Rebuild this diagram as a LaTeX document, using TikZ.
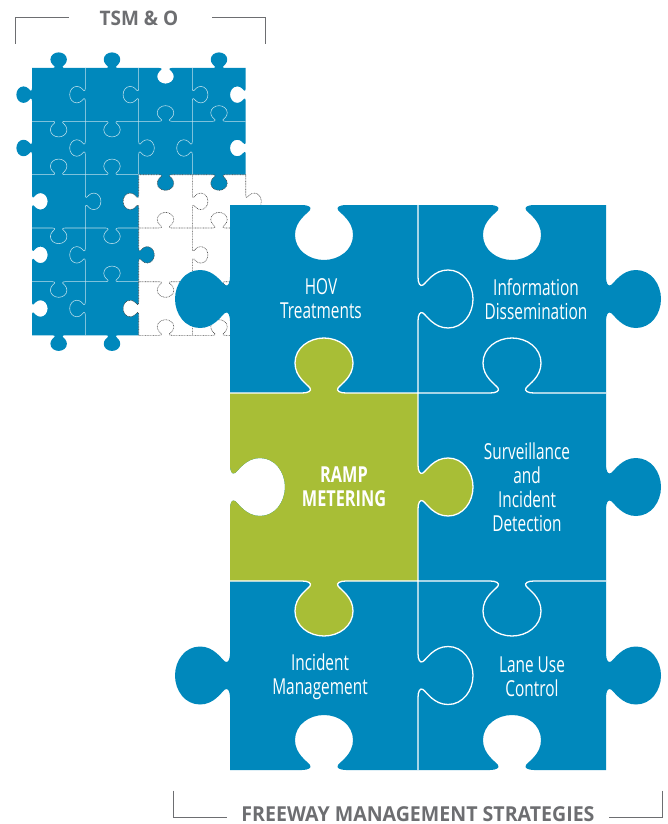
\documentclass[tikz,border=0pt]{standalone}
\usepackage{fontspec}
\setmainfont{Open Sans}
\newfontfamily\lab[FakeStretch=0.70]{Open Sans}
\newfontfamily\labb[FakeStretch=0.74]{Open Sans Bold}
\newfontfamily\headf[FakeStretch=0.95]{Open Sans Bold}
\definecolor{pzblue}{HTML}{0088BC}
\definecolor{pzgreen}{HTML}{A8BE36}
\definecolor{pzgray}{HTML}{6D6E71}
\definecolor{pzline}{HTML}{BFE0EC}
\definecolor{pzdot}{HTML}{4A4A4A}
% tab shape along an edge: #1 = point macro with its first arguments
\newcommand\pzshape[1]{-- #1{-22}{0} .. controls #1{-16}{0} and #1{-12}{2} .. #1{-14}{5}
 .. controls #1{-17}{9} and #1{-29}{16} .. #1{-29}{30}
 .. controls #1{-29}{45} and #1{-15}{55} .. #1{0}{55}
 .. controls #1{15}{55} and #1{29}{45} .. #1{29}{30}
 .. controls #1{29}{16} and #1{17}{9} .. #1{14}{5}
 .. controls #1{12}{2} and #1{16}{0} .. #1{22}{0}}
% #1 x0, #2 x1, #3 y, #4 out, #5 scale, #6 u, #7 v
\newcommand\HP[7]{({(#1+#2)/2+(#5)*(#6)*((#2)-(#1))/abs((#2)-(#1))},{#3+(#4)*(#5)*(#7)})}
\newcommand\VP[7]{({#3+(#4)*(#5)*(#7)},{(#1+#2)/2+(#5)*(#6)*((#2)-(#1))/abs((#2)-(#1))})}
% full edges: HE x0 x1 y out scale ; VE y0 y1 x out scale
\newcommand\HE[5]{\pzshape{\HP{#1}{#2}{#3}{#4}{#5}} -- (#2,#3) }
\newcommand\VE[5]{\pzshape{\VP{#1}{#2}{#3}{#4}{#5}} -- (#3,#2) }
\def\Sc{.284}
\def\xa{32}\def\xb{85.3}\def\xc{138.7}\def\xd{192.3}\def\xe{245.7}
\def\ya{68}\def\yb{121.3}\def\yc{174.7}\def\yd{228}\def\ye{281.7}\def\yf{335.3}
\edef\smallblue{(\xa,\ya)
 \HE{\xa}{\xb}{\ya}{-1}{\Sc}\HE{\xb}{\xc}{\ya}{-1}{\Sc}\HE{\xc}{\xd}{\ya}{1}{\Sc}\HE{\xd}{\xe}{\ya}{-1}{\Sc}
 \VE{\ya}{\yb}{\xe}{-1}{\Sc}\VE{\yb}{\yc}{\xe}{-1}{\Sc}
 \HE{\xe}{\xd}{\yc}{1}{\Sc}\HE{\xd}{\xc}{\yc}{1}{\Sc}
 \VE{\yc}{\yd}{\xc}{-1}{\Sc}\VE{\yd}{\ye}{\xc}{1}{\Sc}\VE{\ye}{\yf}{\xc}{-1}{\Sc}
 \HE{\xc}{\xb}{\yf}{1}{\Sc}\HE{\xb}{\xa}{\yf}{1}{\Sc}
 \VE{\yf}{\ye}{\xa}{1}{\Sc}\VE{\ye}{\yd}{\xa}{1}{\Sc}\VE{\yd}{\yc}{\xa}{1}{\Sc}\VE{\yc}{\yb}{\xa}{-1}{\Sc}\VE{\yb}{\ya}{\xa}{-1}{\Sc} -- cycle}
\edef\smallboundary{(\xe,\yc)
 \HE{\xe}{\xd}{\yc}{1}{\Sc}\HE{\xd}{\xc}{\yc}{1}{\Sc}
 \VE{\yc}{\yd}{\xc}{-1}{\Sc}\VE{\yd}{\ye}{\xc}{1}{\Sc}\VE{\ye}{\yf}{\xc}{-1}{\Sc}}
\edef\smalldots{(\xe,\yc)\VE{\yc}{\yd}{\xe}{1}{\Sc}
 (\xd,\yc)\VE{\yc}{\yd}{\xd}{1}{\Sc}\VE{\yd}{\ye}{\xd}{1}{\Sc}\VE{\ye}{\yf}{\xd}{1}{\Sc}
 (\xc,\yd)\HE{\xc}{\xd}{\yd}{-1}{\Sc}\HE{\xd}{\xe}{\yd}{-1}{\Sc}
 (\xc,\ye)\HE{\xc}{\xd}{\ye}{1}{\Sc}\HE{\xd}{\xe}{\ye}{1}{\Sc}
 (\xc,\yf)\HE{\xc}{\xd}{\yf}{-1}{\Sc}\HE{\xd}{\xe}{\yf}{-1}{\Sc}}
\edef\smalllines{(\xb,\ya)\VE{\ya}{\yb}{\xb}{-1}{\Sc}\VE{\yb}{\yc}{\xb}{-1}{\Sc}\VE{\yc}{\yd}{\xb}{1}{\Sc}\VE{\yd}{\ye}{\xb}{-1}{\Sc}\VE{\ye}{\yf}{\xb}{-1}{\Sc}
 (\xc,\ya)\VE{\ya}{\yb}{\xc}{-1}{\Sc}\VE{\yb}{\yc}{\xc}{1}{\Sc}
 (\xd,\ya)\VE{\ya}{\yb}{\xd}{1}{\Sc}\VE{\yb}{\yc}{\xd}{-1}{\Sc}
 (\xa,\yb)\HE{\xa}{\xb}{\yb}{1}{\Sc}\HE{\xb}{\xc}{\yb}{1}{\Sc}\HE{\xc}{\xd}{\yb}{-1}{\Sc}\HE{\xd}{\xe}{\yb}{-1}{\Sc}
 (\xa,\yc)\HE{\xa}{\xb}{\yc}{-1}{\Sc}\HE{\xb}{\xc}{\yc}{-1}{\Sc}
 (\xa,\yd)\HE{\xa}{\xb}{\yd}{1}{\Sc}\HE{\xb}{\xc}{\yd}{1}{\Sc}
 (\xa,\ye)\HE{\xa}{\xb}{\ye}{1}{\Sc}\HE{\xb}{\xc}{\ye}{-1}{\Sc}}
\edef\bigblue{(230,205)
 \HE{230}{418}{205}{1}{1}\HE{418}{606}{205}{1}{1}
 \VE{205}{393}{606}{1}{1}\VE{393}{581}{606}{1}{1}\VE{581}{770}{606}{1}{1}
 \HE{606}{418}{770}{-1}{1}\HE{418}{230}{770}{-1}{1}
 \VE{770}{581}{230}{-1}{1}\VE{581}{393}{230}{1}{1}\VE{393}{205}{230}{-1}{1} -- cycle}
\edef\biggreen{(230,393)
 \HE{230}{418}{393}{-1}{1}\VE{393}{581}{418}{1}{1}\HE{418}{230}{581}{1}{1}\VE{581}{393}{230}{1}{1} -- cycle}
\edef\bigwhite{(418,205)\VE{205}{393}{418}{1}{1}\VE{393}{581}{418}{1}{1}\VE{581}{770}{418}{1}{1}
 (230,393)\HE{230}{418}{393}{-1}{1}\HE{418}{606}{393}{-1}{1}
 (230,581)\HE{230}{418}{581}{1}{1}\HE{418}{606}{581}{1}{1}}
\tikzset{
 lbl/.style={text=white,align=center,font=\lab\fontsize{22}{24}\selectfont,inner sep=0pt},
 lblb/.style={text=white,align=center,font=\labb\fontsize{22}{24}\selectfont,inner sep=0pt},
 head/.style={text=pzgray,font=\headf\fontsize{20}{24}\selectfont,inner sep=0pt},
 headb/.style={text=pzgray,font=\headf\fontsize{20.6}{24}\selectfont,inner sep=0pt,anchor=base},
 brk/.style={draw=pzgray,line width=1pt},
 smallline/.style={draw=pzline,line width=.55pt},
 dotline/.style={draw=pzdot,line width=.6pt,dash pattern=on .8pt off .8pt},
 bigline/.style={draw=white,line width=1.3pt}
}
\begin{document}
\begin{tikzpicture}[x=1pt,y=-1pt]
\useasboundingbox (0,0) rectangle (668,824);
% small puzzle
\path[draw=none,fill=pzblue] \smallblue;
\path[smallline] \smalllines;
\path[dotline] \smalldots;
\path[dotline] \smallboundary;
% big puzzle
\path[fill=pzblue] \bigblue;
\path[fill=pzgreen] \biggreen;
\path[bigline] \bigwhite;
% labels
\node[lbl] (hov) at (321,299) {HOV\\Treatments};
\node[lbl] (info) at (536,299) {Information\\Dissemination};
\node[lblb] (ramp) at (344,487) {RAMP\\METERING};
\node[lbl] (surv) at (527,487) {Surveillance\\and\\Incident\\Detection};
\node[lbl] (inc) at (320,677) {Incident\\Management};
\node[lbl] (lane) at (532,677) {Lane Use\\Control};
% brackets and headings
\node[head] (tsm) at (139,18) {TSM \& O};
\node[headb] (fms) at (418,821.5) {FREEWAY MANAGEMENT STRATEGIES};
\coordinate (a1) at (15.7,44); \coordinate (a2) at (15.7,18); \coordinate (a3) at (69,18);
\coordinate (b1) at (265.5,44); \coordinate (b2) at (265.5,18); \coordinate (b3) at (211.5,18);
\coordinate (c1) at (173.5,790.5); \coordinate (c2) at (173.5,817); \coordinate (c3) at (226.5,817);
\coordinate (d1) at (662.5,790.5); \coordinate (d2) at (662.5,817); \coordinate (d3) at (609,817);
\draw[brk] (a1) -- (a2) -- (a3);
\draw[brk] (b1) -- (b2) -- (b3);
\draw[brk] (c1) -- (c2) -- (c3);
\draw[brk] (d1) -- (d2) -- (d3);
\end{tikzpicture}
\end{document}
